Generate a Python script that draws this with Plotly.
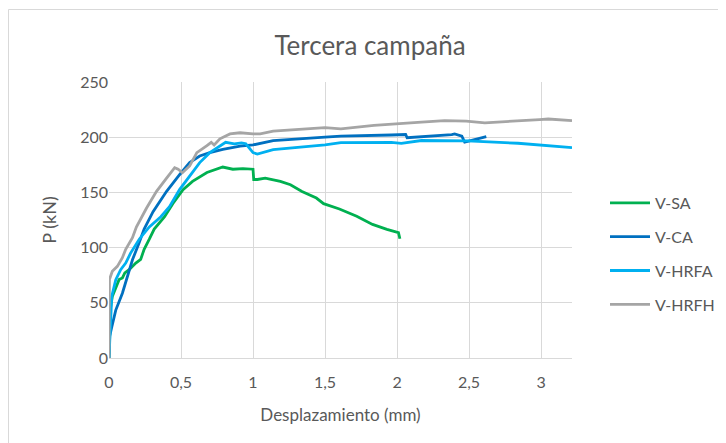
import plotly.graph_objects as go

# ---- data ----
sa_x = [0, 0.01, 0.023, 0.047, 0.07, 0.093, 0.11, 0.14, 0.186, 0.22, 0.244, 0.28, 0.314, 0.386, 0.444, 0.514,
        0.58, 0.68, 0.79, 0.86, 0.93, 1.0, 1.005, 1.03, 1.085, 1.19, 1.26, 1.34, 1.44, 1.49, 1.60, 1.72, 1.83,
        1.93, 2.01, 2.02]
sa_y = [0, 45, 55.7, 63.3, 71, 72.5, 77, 80, 86, 89.3, 98.5, 107.6, 116.8, 128, 140, 152.5,
        160, 168, 173, 171, 171.5, 171, 161.7, 161.7, 162.9, 160, 156.9, 150.9, 144.9, 139.8, 135, 128.4, 121,
        116.5, 113.5, 108]

ca_x = [0, 0.005, 0.019, 0.047, 0.093, 0.128, 0.163, 0.21, 0.244, 0.306, 0.40, 0.49, 0.56, 0.63, 0.70, 0.79,
        0.91, 1.0, 1.14, 1.5, 1.61, 1.96, 2.06, 2.07, 2.2, 2.38, 2.40, 2.45, 2.47, 2.55, 2.62]
ca_y = [0, 20, 28, 43.4, 58.7, 74, 89, 104.6, 116.8, 132.5, 151, 166, 177, 183, 186, 189,
        192, 193, 196.9, 200, 201, 202, 202.4, 199.5, 200.5, 202.4, 203, 201, 195.5, 198, 200.6]

hrfa_x = [0, 0.005, 0.012, 0.019, 0.047, 0.081, 0.116, 0.15, 0.21, 0.267, 0.28, 0.36, 0.42, 0.49, 0.56, 0.63,
          0.70, 0.77, 0.81, 0.87, 0.92, 0.95, 1.0, 1.03, 1.14, 1.5, 1.61, 1.96, 2.03, 2.17, 2.49, 2.84, 3.215]
hrfa_y = [0, 20, 37, 55.7, 71, 80, 86, 95, 107.6, 116.8, 118.7, 128, 137, 152.5, 164.7, 177,
          186, 192.3, 195.4, 194, 194.8, 194, 186, 184.7, 188.8, 193, 195, 195.4, 194.5, 197, 196.6, 194.5, 190.5]

hrfh_x = [0, 0.003, 0.023, 0.058, 0.093, 0.116, 0.163, 0.19, 0.26, 0.33, 0.40, 0.456, 0.48, 0.51, 0.56, 0.61,
          0.68, 0.71, 0.73, 0.77, 0.84, 0.91, 1.0, 1.05, 1.14, 1.5, 1.61, 1.84, 2.17, 2.33, 2.48, 2.61, 2.99,
          3.05, 3.215]
hrfh_y = [0, 71, 78.6, 83, 90.8, 98.5, 109, 118.7, 135.6, 151, 163, 172.4, 171, 167.8, 174, 186,
          192.3, 195.4, 193, 198.5, 203, 204, 203, 203, 205.6, 208.6, 207.5, 210.7, 213.7, 215, 214.5, 213, 216,
          216.5, 215]

series_names = ["V-SA", "V-CA", "V-HRFA", "V-HRFH"]
series_colors = ["#00B050", "#0070C0", "#00B0F0", "#A5A5A5"]

x_tickvals = [0, 0.5, 1, 1.5, 2, 2.5, 3]
x_ticktext = ["0", "0,5", "1", "1,5", "2", "2,5", "3"]
y_tickvals = [0, 50, 100, 150, 200, 250]

FONT = "Lato"
TXT = "#595959"
GRID = "#D9D9D9"

fig = go.Figure()
for name, col, xs, ys in zip(series_names, series_colors,
                             [sa_x, ca_x, hrfa_x, hrfh_x], [sa_y, ca_y, hrfa_y, hrfh_y]):
    fig.add_trace(go.Scatter(x=xs, y=ys, mode="lines", name=name, legendgroup=name,
                             line=dict(color=col, width=2.8)))

# The page places the figure 8px in from the top-left corner (default body margin),
# so the figure is sized and laid out in window pixels minus that offset.
O = 8
WIN_W, WIN_H = 726, 443
W, H = WIN_W - O, WIN_H - O
# plot area in window pixels
PX0, PX1, PY0, PY1 = 109, 572, 82, 358
L, R, T, B = PX0 - O, W - (PX1 - O), PY0 - O, H - (PY1 - O)
pw, ph = W - L - R, H - T - B

def px_x(p):
    return (p - O - L) / pw

def px_y(p):
    return (H - B - (p - O)) / ph

fig.update_layout(
    width=W, height=H,
    margin=dict(l=L, r=R, t=T, b=B, autoexpand=False),
    paper_bgcolor="white", plot_bgcolor="white",
    font=dict(family=FONT, color=TXT, size=16),
    title=dict(text="Tercera campaña", x=px_x(370), xanchor="center", xref="paper",
               y=1 - (46 - O) / H, yanchor="middle", font=dict(size=26, color=TXT, family=FONT)),
    xaxis=dict(range=[0, 3.215], tickvals=x_tickvals, ticktext=x_ticktext, automargin=False,
               showgrid=True, gridcolor=GRID, gridwidth=1, zeroline=False,
               showline=True, linecolor=GRID, ticks="", ticklabelstandoff=10,
               tickfont=dict(size=16, color=TXT, family=FONT),
               title=dict(text="Desplazamiento (mm)", font=dict(size=17, color=TXT, family=FONT), standoff=18)),
    yaxis=dict(range=[0, 250], tickvals=y_tickvals, showgrid=True, gridcolor=GRID, gridwidth=1,
               zeroline=False, showline=False, ticks="", automargin=False,
               tickfont=dict(size=16, color=TXT, family=FONT),
               title=dict(text="P (kN)", font=dict(size=18, color=TXT, family=FONT), standoff=18)),
    legend=dict(x=px_x(605), xanchor="left", y=px_y(254), yanchor="middle",
                font=dict(size=16, color=TXT, family=FONT), itemwidth=40,
                tracegroupgap=10, bgcolor="rgba(0,0,0,0)"),
    shapes=[dict(type="rect", xref="paper", yref="paper",
                 x0=px_x(8.5), x1=px_x(WIN_W + 5), y0=px_y(WIN_H + 5), y1=px_y(9.5),
                 line=dict(color=GRID, width=1), fillcolor="rgba(0,0,0,0)", layer="below")],
)

fig.write_html("out.html")
